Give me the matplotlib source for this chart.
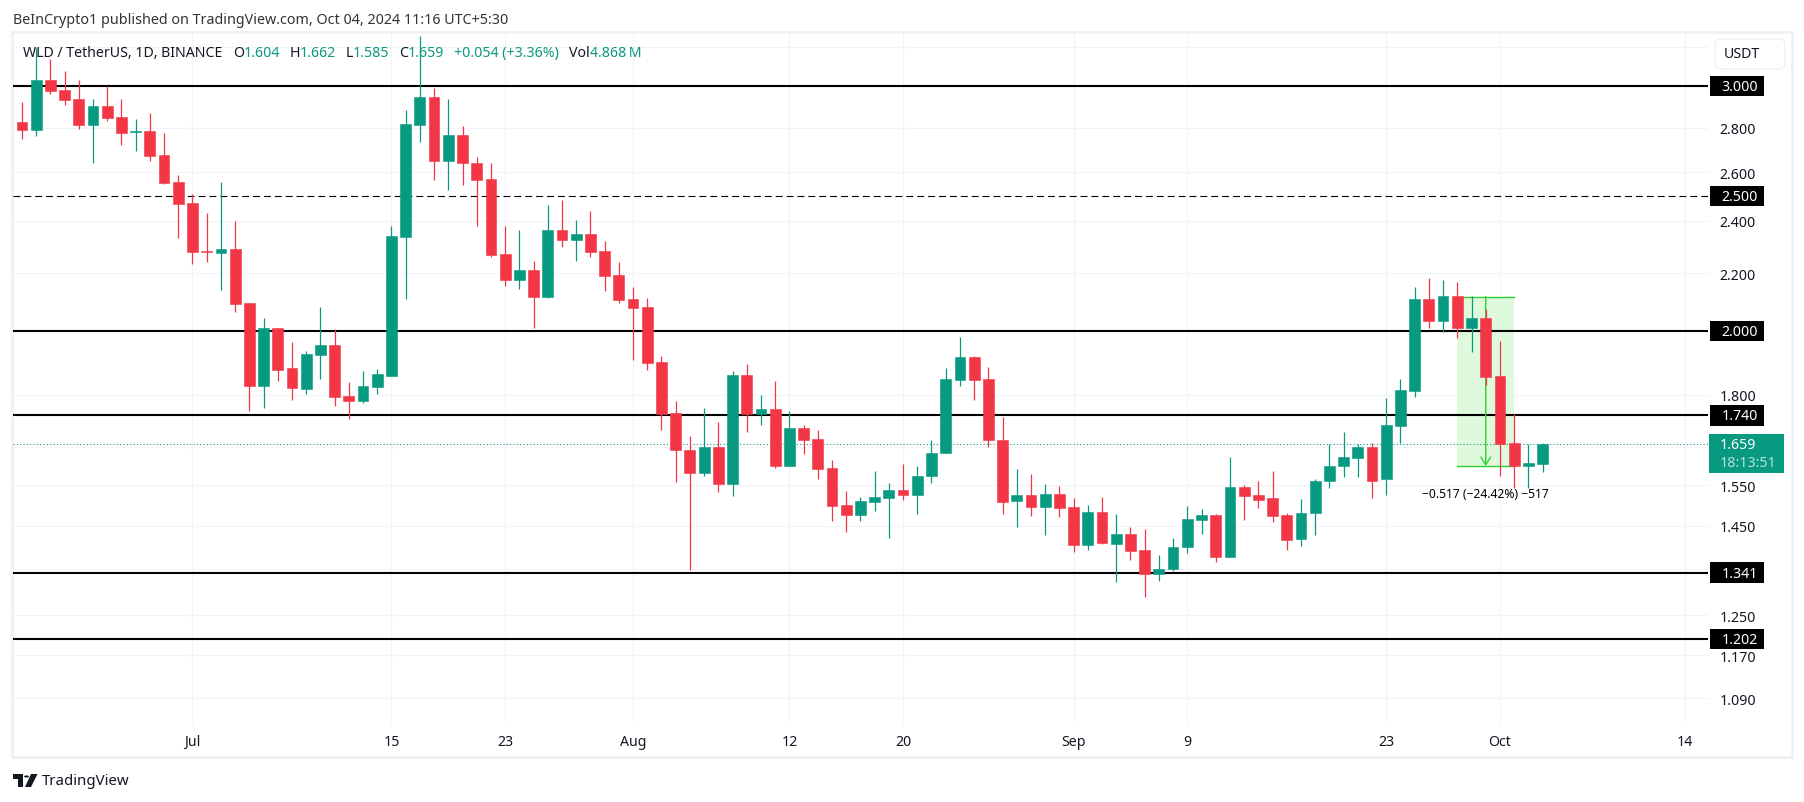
import pandas as pd
import matplotlib
matplotlib.use("Agg")
import matplotlib.pyplot as plt
import matplotlib.dates as mdates
from matplotlib.patches import Rectangle, FancyBboxPatch, Polygon, Circle
from matplotlib.ticker import NullLocator

W, H = 1804, 803
GREEN = "#089981"
RED = "#F23645"
GRID = "#f0f3fa"
FRAME = "#f0f1f4"
TEXT = "#131722"
TOOL_GREEN = "#2fd12f"
plt.rcParams["font.family"] = ["Noto Sans", "DejaVu Sans"]

# daily candles, 2024-06-19 to 2024-10-04
first_day = "2024-06-19"
opens = [2.828, 2.791, 3.030, 2.980, 2.936, 2.814, 2.903, 2.851, 2.781, 2.786, 2.677, 2.561,
         2.470, 2.282, 2.274, 2.289, 2.095, 1.827, 2.010, 1.882, 1.818, 1.923,
         1.955, 1.797, 1.782, 1.824, 1.857, 2.335, 2.814, 2.946, 2.648, 2.768,
         2.643, 2.574, 2.271, 2.176, 2.212, 2.115, 2.362, 2.327, 2.347, 2.282,
         2.194, 2.109, 2.081, 1.901, 1.748, 1.644, 1.581, 1.652, 1.552, 1.860,
         1.745, 1.759, 1.601, 1.704, 1.674, 1.594, 1.500, 1.475, 1.507, 1.517,
         1.537, 1.525, 1.573, 1.634, 1.845, 1.917, 1.848, 1.671, 1.510, 1.525,
         1.494, 1.527, 1.494, 1.404, 1.482, 1.406, 1.429, 1.392, 1.338, 1.350,
         1.399, 1.463, 1.475, 1.376, 1.545, 1.525, 1.517, 1.475, 1.418, 1.480,
         1.560, 1.599, 1.620, 1.650, 1.565, 1.710, 1.812, 2.109, 2.033, 2.119,
         2.010, 2.044, 1.857, 1.661, 1.601, 1.604]
highs = [2.922, 3.195, 3.136, 3.075, 3.030, 2.936, 3.000, 2.936, 2.841, 2.869, 2.777, 2.587,
         2.507, 2.430, 2.561, 2.398, 2.095, 2.044, 2.010, 1.965, 1.936, 2.081,
         2.007, 1.839, 1.872, 1.879, 2.378, 2.884, 3.259, 2.990, 2.936, 2.809,
         2.669, 2.639, 2.378, 2.362, 2.245, 2.462, 2.483, 2.402, 2.438, 2.320,
         2.241, 2.151, 2.112, 1.920, 1.782, 1.682, 1.762, 1.722, 1.872, 1.894,
         1.800, 1.842, 1.751, 1.713, 1.699, 1.615, 1.535, 1.520, 1.586, 1.555,
         1.604, 1.599, 1.671, 1.882, 1.981, 1.920, 1.885, 1.736, 1.591, 1.578,
         1.552, 1.547, 1.517, 1.500, 1.520, 1.477, 1.446, 1.441, 1.381, 1.420,
         1.497, 1.489, 1.477, 1.623, 1.550, 1.560, 1.586, 1.480, 1.515, 1.565,
         1.658, 1.693, 1.658, 1.663, 1.791, 1.848, 2.151, 2.183, 2.176, 2.169,
         2.119, 2.074, 1.968, 1.748, 1.658, 1.662]
lows = [2.749, 2.763, 2.960, 2.908, 2.795, 2.639, 2.832, 2.722, 2.695, 2.651, 2.550, 2.331,
        2.234, 2.241, 2.140, 2.064, 1.753, 1.762, 1.842, 1.785, 1.803, 1.848,
        1.768, 1.730, 1.777, 1.803, 1.857, 2.109, 2.736, 2.569, 2.524, 2.548,
        2.378, 2.260, 2.155, 2.144, 2.010, 2.112, 2.297, 2.245, 2.260, 2.136,
        2.095, 1.907, 1.875, 1.699, 1.557, 1.347, 1.575, 1.532, 1.522, 1.693,
        1.713, 1.594, 1.599, 1.631, 1.565, 1.460, 1.434, 1.460, 1.485, 1.420,
        1.512, 1.477, 1.555, 1.634, 1.827, 1.785, 1.650, 1.477, 1.446, 1.472,
        1.427, 1.470, 1.388, 1.392, 1.406, 1.321, 1.370, 1.289, 1.323, 1.345,
        1.385, 1.429, 1.365, 1.376, 1.463, 1.492, 1.458, 1.392, 1.401, 1.427,
        1.542, 1.570, 1.570, 1.517, 1.525, 1.661, 1.794, 2.010, 1.997, 1.977,
        1.932, 1.830, 1.575, 1.542, 1.542, 1.585]
closes = [2.791, 3.030, 2.975, 2.931, 2.814, 2.903, 2.846, 2.777, 2.786, 2.673, 2.557, 2.466,
          2.278, 2.278, 2.289, 2.091, 1.827, 2.010, 1.875, 1.821, 1.926, 1.955,
          1.794, 1.782, 1.827, 1.863, 2.339, 2.818, 2.946, 2.648, 2.768, 2.639,
          2.569, 2.267, 2.176, 2.212, 2.115, 2.362, 2.327, 2.347, 2.278, 2.190,
          2.105, 2.078, 1.897, 1.745, 1.642, 1.581, 1.652, 1.552, 1.860, 1.745,
          1.759, 1.601, 1.704, 1.671, 1.591, 1.497, 1.475, 1.509, 1.520, 1.537,
          1.525, 1.575, 1.636, 1.848, 1.917, 1.845, 1.669, 1.507, 1.525, 1.494,
          1.527, 1.492, 1.404, 1.482, 1.408, 1.429, 1.390, 1.338, 1.350, 1.399,
          1.465, 1.475, 1.376, 1.545, 1.522, 1.512, 1.472, 1.415, 1.480, 1.562,
          1.601, 1.623, 1.650, 1.562, 1.713, 1.815, 2.109, 2.033, 2.119, 2.010,
          2.044, 1.854, 1.658, 1.601, 1.609, 1.659]

solid_levels = [3.000, 2.000, 1.740, 1.341, 1.202]
dashed_levels = [2.500]
last_price = 1.659

grid_prices = [3.2, 3.0, 2.8, 2.6, 2.4, 2.2, 2.0, 1.8, 1.65, 1.55, 1.45, 1.35, 1.25, 1.17, 1.09]
grid_labels = ["", "", "2.800", "2.600", "2.400", "2.200", "", "1.800", "", "1.550", "1.450", "", "1.250", "1.170", "1.090"]
tick_days = ["2024-07-01", "2024-07-15", "2024-07-23", "2024-08-01", "2024-08-12", "2024-08-20",
             "2024-09-01", "2024-09-09", "2024-09-23", "2024-10-01", "2024-10-14"]
tick_names = ["Jul", "15", "23", "Aug", "12", "20", "Sep", "9", "23", "Oct", "14"]
month_names = ["Jul", "Aug", "Sep", "Oct"]

# the measure tool
measure_top, measure_bottom = 2.117, 1.600
measure_start, measure_mid, measure_end = "2024-09-28", "2024-09-30", "2024-10-02"
measure_text = "\u22120.517 (\u221224.42%) \u2212517"

header = [(23, "WLD / TetherUS, 1D, BINANCE", TEXT), (233, "O", TEXT), (244, "1.604", GREEN),
          (290, "H", TEXT), (300, "1.662", GREEN), (345.5, "L", TEXT), (353, "1.585", GREEN),
          (399, "C", TEXT), (408, "1.659", GREEN), (454.5, "+0.054 (+3.36%)", GREEN),
          (569, "Vol", TEXT), (590, "4.868\u2009M", GREEN)]


def fx(x):
    return x / W


def fy(y):
    return 1 - y / H


def page_rect(x0, y0, x1, y1, **kw):
    fig.add_artist(Rectangle((fx(x0), fy(y1)), fx(x1) - fx(x0), fy(y0) - fy(y1),
                             transform=fig.transFigure, **kw))


fig = plt.figure(figsize=(W / 100, H / 100), dpi=100, facecolor="white")
ax = fig.add_axes([fx(13), fy(724), fx(1708) - fx(13), fy(35) - fy(724)], zorder=2)
ax.set_facecolor("none")
for s in ax.spines.values():
    s.set_visible(False)

days = pd.date_range(first_day, periods=len(opens))
x = mdates.date2num(days)
colors = [GREEN if c >= o else RED for o, c in zip(opens, closes)]
jul1 = mdates.date2num(pd.Timestamp("2024-07-01"))

ax.set_yscale("log")
ax.set_ylim(1.046, 3.269)
ax.set_xlim(jul1 - 12.63, jul1 + 106.64)

# grid and axes labels
ax.yaxis.tick_right()
ax.yaxis.set_minor_locator(NullLocator())
ax.set_yticks(grid_prices)
ax.set_yticklabels(grid_labels)
ax.set_xticks(mdates.date2num(pd.to_datetime(tick_days)))
ax.set_xticklabels(tick_names)
ax.tick_params(axis="both", which="both", length=0, labelsize=10.2, labelcolor=TEXT)
ax.tick_params(axis="y", pad=8.5)
ax.tick_params(axis="x", pad=8)
for lab in ax.get_xticklabels():
    if lab.get_text() in month_names:
        lab.set_fontweight("bold")
ax.grid(True, color=GRID, linewidth=0.8)
ax.set_axisbelow(True)

# levels
for v in solid_levels:
    ax.axhline(v, color="black", linewidth=1.5, zorder=2)
for v in dashed_levels:
    ax.axhline(v, color="black", linewidth=0.8, linestyle=(0, (6.2, 3.6)), zorder=2)
ax.axhline(last_price, color=GREEN, linewidth=0.8, linestyle=(0, (1, 2)), zorder=2)

# measure tool goes under the candles
m0, m1, m2 = mdates.date2num(pd.to_datetime([measure_start, measure_mid, measure_end]))
ax.fill_between([m0, m2], measure_bottom, measure_top, color="#dff9dc", linewidth=0, zorder=1)
ax.plot([m0, m2], [measure_top, measure_top], color=TOOL_GREEN, linewidth=1, zorder=2.5)
ax.plot([m0, m2], [measure_bottom, measure_bottom], color=TOOL_GREEN, linewidth=1, zorder=2.5)
ax.annotate("", xy=(m1, measure_bottom), xytext=(m1, measure_top), zorder=2.5,
            arrowprops=dict(arrowstyle="->,head_length=0.55,head_width=0.35", color=TOOL_GREEN,
                            linewidth=1, shrinkA=0, shrinkB=0))
ax.text(m1, 1.530, measure_text, ha="center", va="center", fontsize=8.7, color="black", zorder=5)

# candles
ax.vlines(x, lows, highs, colors=colors, linewidth=0.9, zorder=3)
tops = [max(o, c) for o, c in zip(opens, closes)]
bots = [min(o, c) for o, c in zip(opens, closes)]
ax.bar(x, [t - b for t, b in zip(tops, bots)], bottom=bots, width=0.76, color=colors,
       edgecolor=colors, linewidth=0.4, zorder=3)

# frame around the chart
page_rect(12, 33, 1792, 758, fill=False, edgecolor=FRAME, linewidth=2, zorder=0)

fig.text(fx(13), fy(20), "BeInCrypto1 published on TradingView.com, Oct 04, 2024 11:16 UTC+5:30",
         fontsize=10.3, color="#333333", va="center", ha="left")
for px, txt, col in header:
    fig.text(fx(px), fy(53.5), txt, fontsize=10.2, color=col, va="center", ha="left", zorder=6)

# price axis badges
for v in solid_levels + dashed_levels:
    y = H - ax.transData.transform((jul1, v))[1]
    page_rect(1710, y - 10.3, 1764, y + 10.3, facecolor="black", edgecolor="none", zorder=4)
    fig.text(fx(1740), fy(y + 0.5), f"{v:.3f}", fontsize=10.2, fontweight="bold", color="white",
             va="center", ha="center", zorder=5)

y = H - ax.transData.transform((jul1, last_price))[1]
page_rect(1709, y - 10.3, 1784, y + 28.5, facecolor=GREEN, edgecolor="none", zorder=4)
fig.text(fx(1720), fy(y), f"{last_price:.3f}", fontsize=10.2, fontweight="bold", color="white",
         va="center", ha="left", zorder=5)
fig.text(fx(1720), fy(y + 18), "18:13:51", fontsize=10.2, color="#b5e3da", va="center", ha="left", zorder=5)

# USDT button
fig.add_artist(FancyBboxPatch((fx(1715), fy(70)), fx(70), fy(40) - fy(70),
                              boxstyle="round,pad=0,rounding_size=0.005", transform=fig.transFigure,
                              facecolor="white", edgecolor=FRAME, linewidth=1, zorder=4))
fig.text(fx(1742), fy(54), "USDT", fontsize=10.2, color=TEXT, va="center", ha="center", zorder=5)

# TradingView logo and name
page_rect(13, 775, 22.5, 780, facecolor=TEXT, edgecolor="none")
page_rect(18, 775, 22.5, 788, facecolor=TEXT, edgecolor="none")
fig.add_artist(Circle((fx(26.5), fy(777.5)), 2.4 / W, transform=fig.transFigure, facecolor=TEXT, edgecolor="none"))
fig.add_artist(Polygon([(fx(31), fy(775)), (fx(37.5), fy(775)), (fx(31), fy(788)), (fx(25), fy(788))],
                       transform=fig.transFigure, facecolor=TEXT, edgecolor="none"))
fig.text(fx(41.5), fy(781.5), "TradingView", fontsize=10.8, color=TEXT, va="center", ha="left")

fig.savefig("out.png", dpi=100)
